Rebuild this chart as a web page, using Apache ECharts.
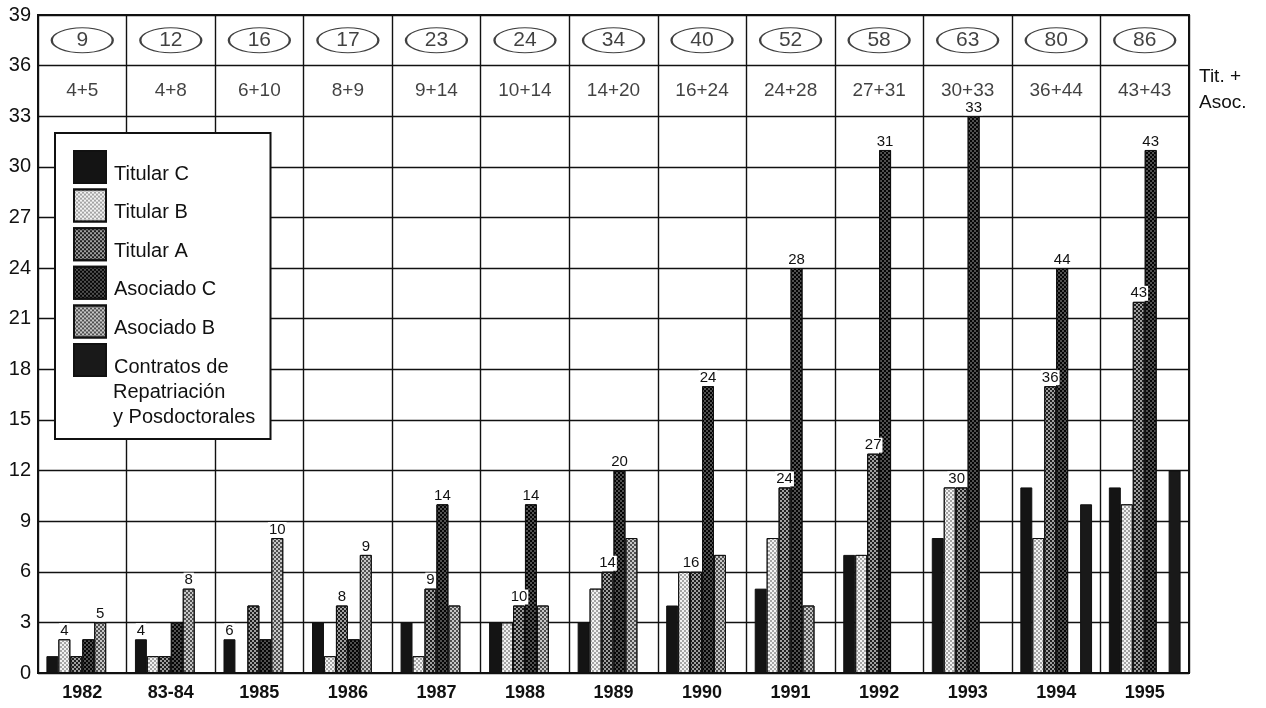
<!DOCTYPE html>
<html><head><meta charset="utf-8">
<script src="https://cdn.jsdelivr.net/npm/echarts@6/dist/echarts.min.js"></script>
<style>html,body{margin:0;padding:0;background:#fff}#c{width:1266px;height:708px}</style>
</head><body><div id="c"></div>
<script>
const categories = ['1982','83-84','1985','1986','1987','1988','1989','1990','1991','1992','1993','1994','1995'];
const seriesNames = ['Titular C','Titular B','Titular A','Asociado C','Asociado B','Contratos de Repatriación y Posdoctorales'];
const titularC   = [1,2,2,3,3,3,3,4,5,7,8,11,11];
const titularB   = [2,1,0,1,1,3,5,6,8,7,11,8,10];
const titularA   = [1,1,4,4,5,4,6,6,11,13,11,17,22];
const asociadoC  = [2,3,2,2,10,10,12,17,24,31,33,24,31];
const asociadoB  = [3,5,8,7,4,4,8,7,4,0,0,0,0];
const contratos  = [0,0,0,0,0,0,0,0,0,0,0,10,12];
const grandTotals    = [9,12,16,17,23,24,34,40,52,58,63,80,86];
const titularTotals  = [4,4,6,8,9,10,14,16,24,27,30,36,43];
const asociadoTotals = [5,8,10,9,14,14,20,24,28,31,33,44,43];
// which bar (series index) carries each total label
const titularLabelBar  = [1,0,0,2,2,2,2,2,2,2,2,2,2];
const asociadoLabelBar = [4,4,4,4,3,3,3,3,3,3,3,3,3];
const yMin = 0, yMax = 39, yStep = 3;

const values = [titularC, titularB, titularA, asociadoC, asociadoB, contratos];
const baseColors  = ['#141414', '#f2f2f2', '#a0a0a0', '#505050', '#c6c6c6', '#191919'];
const decalColors = [null, '#a4a4a4', '#1e1e1e', '#050505', '#505050', null];
const FONT = 'Liberation Sans, Arial, sans-serif';

function decalFor(s) {
  if (!decalColors[s]) return null;
  return { symbol: 'rect', symbolSize: 1, color: decalColors[s],
           dashArrayX: [[2, 2], [0, 2, 2, 0]], dashArrayY: [2, 0] };
}

const barSeries = values.map((arr, s) => ({
  name: seriesNames[s],
  type: 'bar',
  barGap: '0%',
  barCategoryGap: '19%',
  itemStyle: Object.assign({ color: baseColors[s], borderColor: '#111', borderWidth: 1 },
                           decalFor(s) ? { decal: decalFor(s) } : {}),
  z: 3,
  data: arr.map((v, i) => {
    let txt = null;
    if (titularLabelBar[i] === s) txt = String(titularTotals[i]);
    if (asociadoLabelBar[i] === s) txt = String(asociadoTotals[i]);
    // when the two neighbouring titular bars are equally tall the label sits between them
    const shift = (s === 2 && titularB[i] === titularA[i]) ? -5 : 0;
    return {
      value: v,
      label: txt ? {
        show: true, position: 'top', distance: 1, formatter: txt, offset: [shift, 0],
        fontSize: 15, fontFamily: FONT, color: '#111',
        backgroundColor: '#fff', padding: [0, 1, 0, 1]
      } : { show: false }
    };
  })
}));

const ellipsePath = 'path://M0,12.5 A30.5,12.5 0 1,1 61,12.5 A30.5,12.5 0 1,1 0,12.5 Z';

const option = {
  animation: false,
  backgroundColor: '#fff',
  textStyle: { fontFamily: FONT },
  grid: { left: 38, right: 77, top: 15, bottom: 35, show: true, borderColor: '#111', borderWidth: 2, backgroundColor: 'transparent' },
  legend: {
    data: seriesNames,
    orient: 'vertical',
    left: 55, top: 133,
    padding: [17, 42, 62, 18],
    backgroundColor: '#fff',
    borderColor: '#111', borderWidth: 2,
    itemWidth: 32, itemHeight: 32, itemGap: 4.6,
    icon: 'rect',
    selectedMode: false,
    formatter: n => '{t|' + (n.indexOf('Contratos') === 0 ? 'Contratos de' : n) + '}',
    textStyle: {
      fontSize: 20, fontFamily: FONT, color: '#111',
      rich: { t: { fontSize: 20, fontFamily: FONT, color: '#111', lineHeight: 18, padding: [14, 0, 0, 3] } }
    },
    z: 10
  },
  xAxis: {
    type: 'category',
    data: categories,
    axisLine: { lineStyle: { color: '#111', width: 2 } },
    axisTick: { show: false },
    axisLabel: { fontSize: 18, fontWeight: 'bold', color: '#111', fontFamily: FONT, margin: 11 },
    splitLine: { show: true, interval: 0, lineStyle: { color: '#111', width: 1.4 } }
  },
  yAxis: {
    type: 'value', min: yMin, max: yMax, interval: yStep,
    axisLine: { show: true, lineStyle: { color: '#111', width: 2 } },
    axisTick: { show: false },
    axisLabel: { fontSize: 20, color: '#111', fontFamily: FONT, margin: 7 },
    splitLine: { show: true, lineStyle: { color: '#111', width: 1.4 } }
  },
  series: barSeries.concat([
    {
      name: 'total', type: 'scatter', z: 5,
      symbol: ellipsePath, symbolSize: [61, 25],
      itemStyle: { color: '#fff', borderColor: '#111', borderWidth: 1.5 },
      data: categories.map((c, i) => [i, 37.5]),
      label: { show: true, position: 'inside', formatter: p => String(grandTotals[p.dataIndex]),
               fontSize: 21, color: '#111', fontFamily: FONT },
      silent: true
    },
    {
      name: 'split', type: 'scatter', z: 5,
      symbolSize: 0,
      data: categories.map((c, i) => [i, 34.5]),
      label: { show: true, position: 'inside', formatter: p => titularTotals[p.dataIndex] + '+' + asociadoTotals[p.dataIndex],
               fontSize: 19, color: '#111', fontFamily: FONT },
      silent: true
    }
  ]),
  graphic: [
    { type: 'text', z: 100, style: { text: 'Repatriación\ny Posdoctorales', x: 113, y: 380, font: '20px ' + FONT, fill: '#111', lineHeight: 25, verticalAlign: 'top' } },
    { type: 'text', z: 100, style: { text: 'Tit. +\nAsoc.', x: 1199, y: 64, font: '19px ' + FONT, fill: '#111', lineHeight: 26, verticalAlign: 'top' } }
  ]
};
const chart = echarts.init(document.getElementById('c'), null, { renderer: 'canvas' });
chart.setOption(option);
</script>
</body></html>
